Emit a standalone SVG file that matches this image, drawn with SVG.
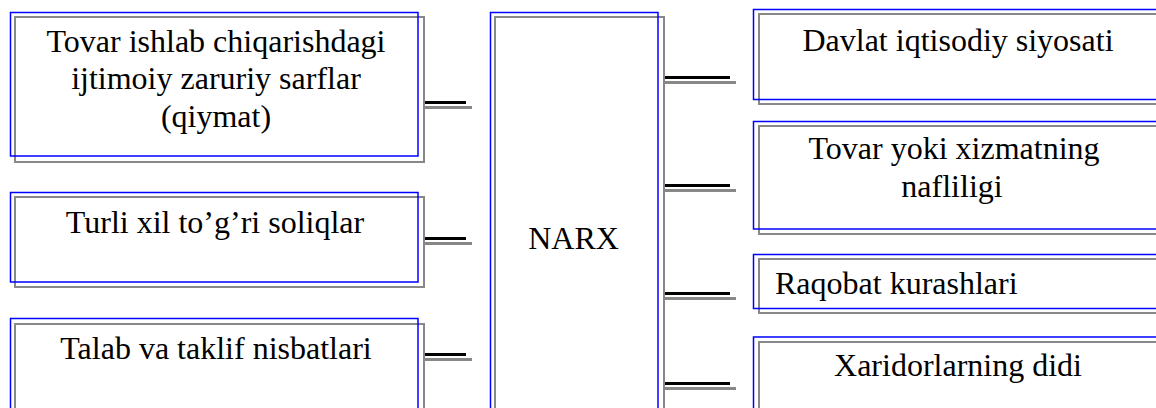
<svg xmlns="http://www.w3.org/2000/svg" width="1156" height="408" viewBox="0 0 1156 408">
<style>
.sh{fill:#fff;stroke:#888;stroke-width:2}
.bx{fill:none;stroke:#0000ff;stroke-width:1.5}
text{font-family:'Liberation Serif','DejaVu Serif',serif;font-size:32px;fill:#000;text-anchor:middle}
.tl{text-anchor:start}
.cb{stroke:#000;stroke-width:3}
.cg{stroke:#888;stroke-width:3}
</style>
<rect width="1156" height="408" fill="#fff"/>
<g id="connectors">
<line class="cg" x1="424" y1="107.5" x2="472" y2="107.5"/>
<line class="cb" x1="418" y1="102.5" x2="466" y2="102.5"/>
<line class="cg" x1="424" y1="243.5" x2="472" y2="243.5"/>
<line class="cb" x1="418" y1="238.5" x2="466" y2="238.5"/>
<line class="cg" x1="424" y1="359.5" x2="472" y2="359.5"/>
<line class="cb" x1="418" y1="354.5" x2="466" y2="354.5"/>
<line class="cg" x1="664" y1="82.5" x2="736" y2="82.5"/>
<line class="cb" x1="658" y1="77.5" x2="730" y2="77.5"/>
<line class="cg" x1="664" y1="190.5" x2="736" y2="190.5"/>
<line class="cb" x1="658" y1="185.5" x2="730" y2="185.5"/>
<line class="cg" x1="664" y1="298.5" x2="736" y2="298.5"/>
<line class="cb" x1="658" y1="293.5" x2="730" y2="293.5"/>
<line class="cg" x1="664" y1="388.5" x2="736" y2="388.5"/>
<line class="cb" x1="658" y1="383.5" x2="730" y2="383.5"/>
</g>
<g id="n1">
<rect class="sh" x="15" y="17" width="409" height="145"/>
<rect class="bx" x="10.5" y="12.5" width="407.5" height="143.5"/>
<text x="216" y="52">Tovar ishlab chiqarishdagi</text>
<text x="216" y="89.3">ijtimoiy zaruriy sarflar</text>
<text x="216" y="126.7">(qiymat)</text>
</g>
<g id="n2">
<rect class="sh" x="15" y="197" width="409" height="90"/>
<rect class="bx" x="10.5" y="192.5" width="407.5" height="89.5"/>
<text x="215" y="232.7">Turli xil to’g’ri soliqlar</text>
</g>
<g id="n3">
<rect class="sh" x="15" y="324" width="409" height="100"/>
<rect class="bx" x="10.5" y="318.5" width="407.5" height="100"/>
<text x="216" y="359.3">Talab va taklif nisbatlari</text>
</g>
<g id="narx">
<rect class="sh" x="495" y="17" width="169" height="400"/>
<rect class="bx" x="490.5" y="12.5" width="167.5" height="400"/>
<text x="573.5" y="249">NARX</text>
</g>
<g id="r1">
<rect class="sh" x="759" y="14" width="420" height="90"/>
<rect class="bx" x="753.5" y="9.5" width="420" height="90"/>
<text x="958" y="50.7">Davlat iqtisodiy siyosati</text>
</g>
<g id="r2">
<rect class="sh" x="759" y="126" width="420" height="108"/>
<rect class="bx" x="753.5" y="121.5" width="420" height="107.5"/>
<text x="954" y="159.3">Tovar yoki xizmatning</text>
<text x="952" y="196.7">nafliligi</text>
</g>
<g id="r3">
<rect class="sh" x="759" y="259" width="420" height="54"/>
<rect class="bx" x="753.5" y="254.5" width="420" height="54"/>
<text class="tl" x="775" y="294">Raqobat kurashlari</text>
</g>
<g id="r4">
<rect class="sh" x="759" y="342" width="420" height="100"/>
<rect class="bx" x="753.5" y="337" width="420" height="100"/>
<text x="958" y="376">Xaridorlarning didi</text>
</g>
</svg>
